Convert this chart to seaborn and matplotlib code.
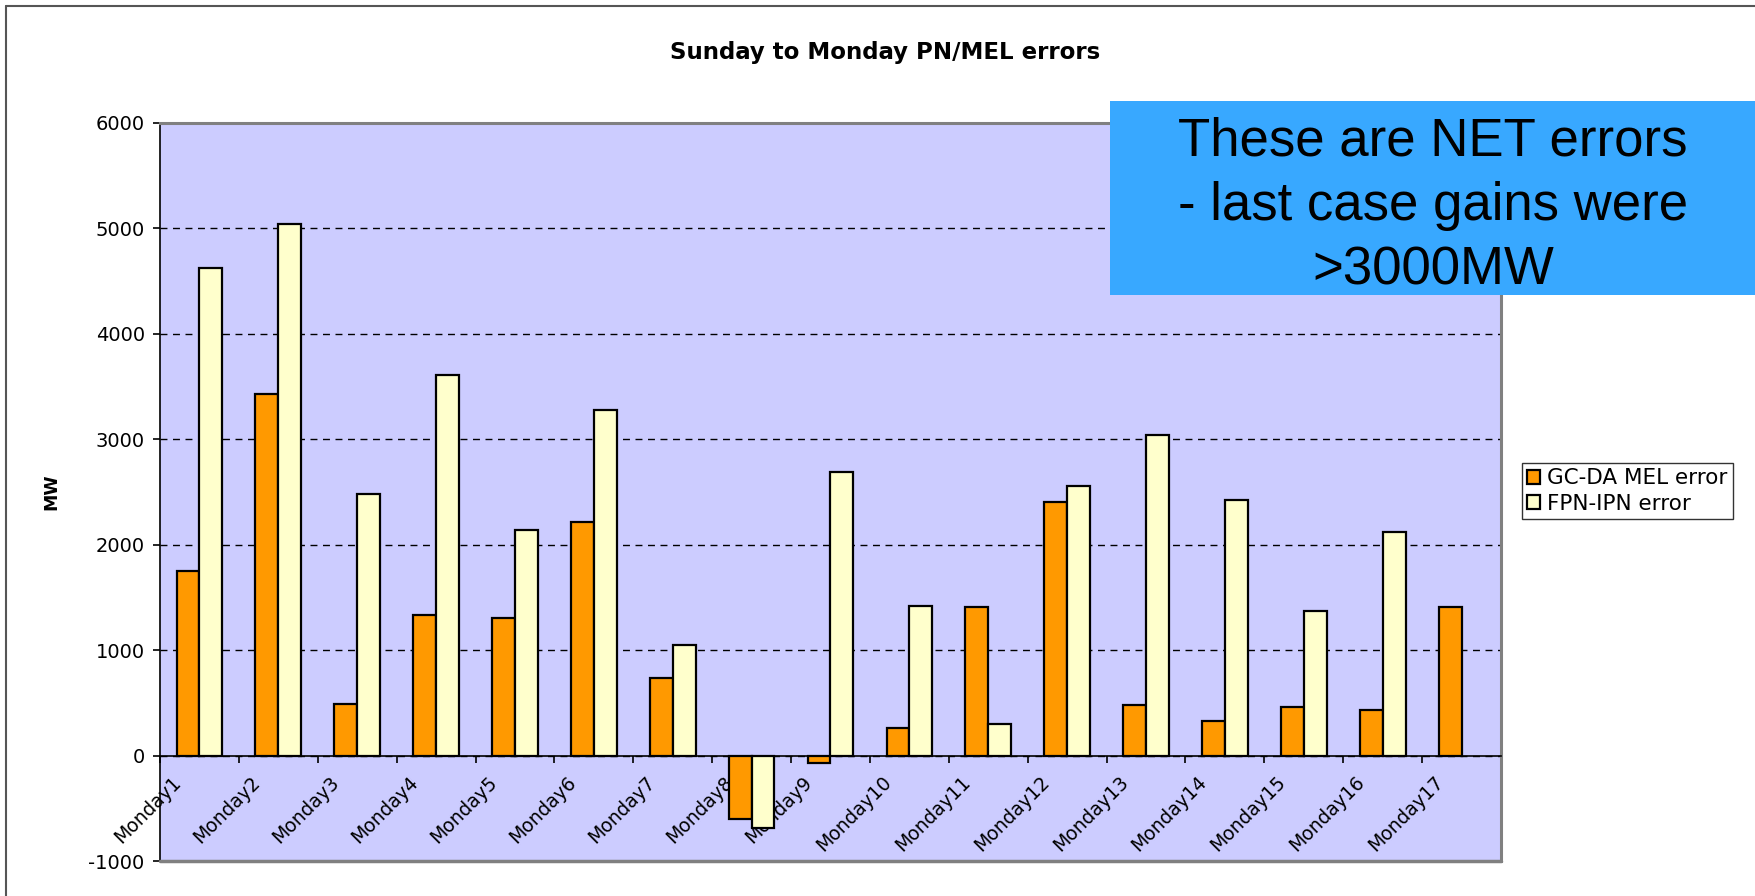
import pandas as pd
import matplotlib.pyplot as plt
import matplotlib.transforms as mtransforms
from matplotlib.lines import Line2D
import seaborn as sns

# Datos
dias = ['Monday1', 'Monday2', 'Monday3', 'Monday4', 'Monday5', 'Monday6',
        'Monday7', 'Monday8', 'Monday9', 'Monday10', 'Monday11', 'Monday12',
        'Monday13', 'Monday14', 'Monday15', 'Monday16', 'Monday17']
gc_da_mel = [1754, 3434, 488, 1332, 1307, 2220, 734, -605, -72, 265,
             1405, 2406, 482, 324, 460, 435, 1408]
fpn_ipn = [4622, 5042, 2479, 3610, 2139, 3276, 1052, -687, 2687, 1417,
           299, 2554, 3043, 2422, 1373, 2123, None]
series = ['GC-DA MEL error', 'FPN-IPN error']
colores = ['#FF9900', '#FFFFCC']
yticks = [-1000, 0, 1000, 2000, 3000, 4000, 5000, 6000]

df = pd.DataFrame({
    'dia': dias * 2,
    'serie': [series[0]] * len(dias) + [series[1]] * len(dias),
    'valor': gc_da_mel + fpn_ipn,
})

sns.set_style("white")
plt.rcParams['font.family'] = ['DejaVu Sans']
for clave in ['text.color', 'axes.labelcolor', 'xtick.color', 'ytick.color']:
    plt.rcParams[clave] = 'black'

fig = plt.figure(figsize=(17.56, 8.96), dpi=100)
ax = fig.add_axes([160 / 1756, 1 - 861 / 896, 1341 / 1756, 738 / 896])
ax.set_facecolor('#CCCCFF')

sns.barplot(data=df, x='dia', y='valor', hue='serie', hue_order=series,
            palette=colores, width=0.58, gap=0, edgecolor='black',
            linewidth=1.6, saturation=1, ax=ax, legend=True)

ax.set_ylim(-1000, 6000)
ax.set_xlim(-0.5, len(dias) - 0.5)
ax.set_yticks(yticks)
ax.set_yticklabels([str(v) for v in yticks], fontsize=14)
ax.set_axisbelow(True)
ax.yaxis.grid(True, linestyle=(0, (5, 4)), color='black', linewidth=1)
ax.xaxis.grid(False)

# eje x sobre el cero, marcas entre categorías
ax.spines['bottom'].set_position(('data', 0))
ax.spines['bottom'].set_color('black')
ax.spines['bottom'].set_linewidth(1.2)
ax.spines['left'].set_color('black')
ax.spines['left'].set_linewidth(1.2)
for lado in ['top', 'right']:
    ax.spines[lado].set_color('#808080')
    ax.spines[lado].set_linewidth(2.2)
ax.axhline(-1000, color='#808080', linewidth=2.5, clip_on=False, zorder=3)

ax.set_xticks(range(len(dias)))
ax.set_xticks([i - 0.5 for i in range(len(dias) + 1)], minor=True)
ax.tick_params(axis='x', which='major', length=0, pad=17)
ax.tick_params(axis='x', which='minor', length=5, width=1.2, color='black',
               direction='out', bottom=True)
ax.tick_params(axis='y', length=5, width=1.2, color='black', direction='out',
               left=True, pad=6)
ax.set_xticklabels(dias, rotation=45, ha='right', va='center',
                   rotation_mode='anchor', fontsize=13.5)
desplaza = mtransforms.ScaledTranslation(-0.21, 0, fig.dpi_scale_trans)
for lbl in ax.get_xticklabels():
    lbl.set_transform(lbl.get_transform() + desplaza)

ax.set_xlabel('')
ax.set_ylabel('MW', fontsize=12.5, fontweight='bold')
ax.yaxis.set_label_coords(-0.0745, 0.5)

# leyenda
handles, labels = ax.get_legend_handles_labels()
ax.legend_.remove()
leg = fig.legend(handles, labels, loc='upper left',
                 bbox_to_anchor=(1522 / 1756, 1 - 463 / 896),
                 fontsize=15.5, frameon=True, fancybox=False,
                 handlelength=0.6, handleheight=0.6, handletextpad=0.3,
                 borderpad=0.25, labelspacing=0.25, borderaxespad=0)
leg.get_frame().set_edgecolor('black')
leg.get_frame().set_linewidth(1)

# título
fig.text(885 / 1756, 1 - 52 / 896, 'Sunday to Monday PN/MEL errors',
         ha='center', va='center', fontsize=16.5, fontweight='bold')

# recuadro azul con nota
fig.patches.append(plt.Rectangle((1110 / 1756, 1 - 295 / 896), 646 / 1756,
                                 194 / 896, transform=fig.transFigure,
                                 facecolor='#38A8FF', edgecolor='none',
                                 zorder=5))
fig.text(1433 / 1756, 1 - 206 / 896,
         'These are NET errors\n- last case gains were\n>3000MW',
         ha='center', va='center', fontsize=38, linespacing=1.36,
         family=['Liberation Sans', 'DejaVu Sans'], color='black', zorder=6)

# borde exterior
fig.add_artist(Line2D([6 / 1756, 6 / 1756], [0, 1 - 6 / 896],
                      transform=fig.transFigure, color='#555555', lw=1.5))
fig.add_artist(Line2D([6 / 1756, 1], [1 - 6 / 896, 1 - 6 / 896],
                      transform=fig.transFigure, color='#555555', lw=1.5))

fig.savefig('out.png', dpi=100)
